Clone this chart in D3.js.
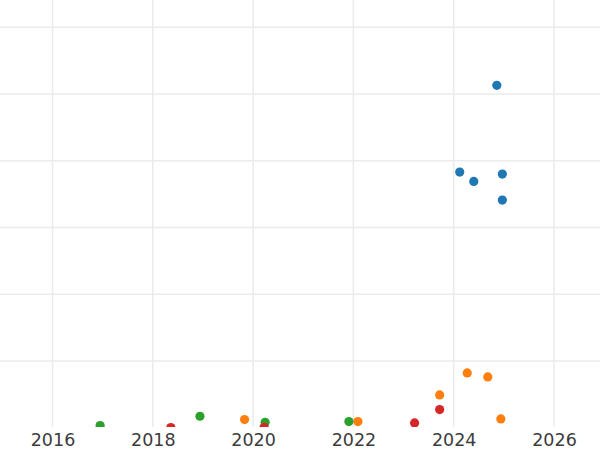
<!DOCTYPE html>
<html>
<head>
<meta charset="utf-8">
<script src="https://cdn.jsdelivr.net/npm/d3@7"></script>
<style>
  html, body { margin: 0; padding: 0; background: #fff; }
  svg { display: block; }
</style>
</head>
<body>
<svg id="chart" width="600" height="450"></svg>
<script>
// ---- data ----
const xTicks = [2016, 2018, 2020, 2022, 2024, 2026];
const yTicks = [10, 20, 30, 40, 50, 60];

const blueYears  = [2024.86, 2024.12, 2024.40, 2024.97, 2024.97];
const blueValues = [51.3, 38.3, 36.9, 38.0, 34.1];

const orangeYears  = [2024.27, 2024.68, 2023.72, 2024.94, 2022.09, 2019.83];
const orangeValues = [8.2, 7.6, 4.9, 1.3, 0.9, 1.2];

const greenYears  = [2016.95, 2018.94, 2020.24, 2021.91];
const greenValues = [0.3, 1.7, 0.8, 0.9];

const redYears  = [2023.72, 2023.22, 2018.36, 2020.22];
const redValues = [2.7, 0.7, 0.0, 0.05];

const seriesColors = ["#1f77b4", "#ff7f0e", "#2ca02c", "#d62728"];

// ---- build ----
const series = [
  { years: blueYears, values: blueValues, color: seriesColors[0] },
  { years: orangeYears, values: orangeValues, color: seriesColors[1] },
  { years: greenYears, values: greenValues, color: seriesColors[2] },
  { years: redYears, values: redValues, color: seriesColors[3] }
];

const W = 600, H = 450;
const plotBottom = 427;
const x = d3.scaleLinear().domain([2016, 2026]).range([52.5, 554]);
const y = d3.scaleLinear().domain([0, 60]).range([427.6, 27.3]);

const svg = d3.select("#chart");

svg.append("defs").append("clipPath").attr("id", "plotclip")
  .append("rect").attr("x", 0).attr("y", 0).attr("width", W).attr("height", plotBottom);

const grid = svg.append("g").attr("clip-path", "url(#plotclip)");
grid.selectAll("line.vx").data(xTicks).join("line")
  .attr("class", "vx")
  .attr("x1", d => x(d)).attr("x2", d => x(d))
  .attr("y1", 0).attr("y2", plotBottom)
  .attr("stroke", "#ebebeb").attr("stroke-width", 1.5);
grid.selectAll("line.hy").data(yTicks).join("line")
  .attr("class", "hy")
  .attr("x1", 0).attr("x2", W)
  .attr("y1", d => y(d)).attr("y2", d => y(d))
  .attr("stroke", "#ebebeb").attr("stroke-width", 1.5);

const pts = svg.append("g").attr("clip-path", "url(#plotclip)");
series.forEach(s => {
  pts.selectAll(null).data(s.years.map((yr, i) => [yr, s.values[i]])).join("circle")
    .attr("cx", d => x(d[0]))
    .attr("cy", d => y(d[1]))
    .attr("r", 4.6)
    .attr("fill", s.color);
});

// x axis labels
const xAxis = d3.axisBottom(x).tickValues(xTicks).tickFormat(d3.format("d")).tickSize(0).tickPadding(7);
const ax = svg.append("g").attr("transform", `translate(0,${plotBottom})`).call(xAxis);
ax.select(".domain").remove();
ax.selectAll("text")
  .attr("font-family", "DejaVu Sans, sans-serif")
  .attr("font-size", 17.5)
  .attr("fill", "#3c3c3c");
</script>
</body>
</html>
